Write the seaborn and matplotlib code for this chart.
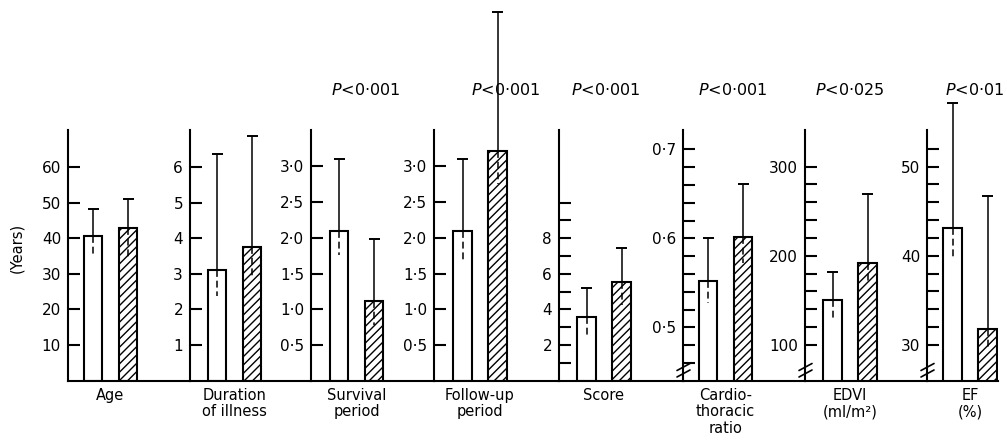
import matplotlib
matplotlib.use("Agg")
import matplotlib.pyplot as plt
from matplotlib.lines import Line2D
import numpy as np
import pandas as pd
import seaborn as sns

# ---------------- data ----------------
panel_labels = ["Age", "Duration\nof illness", "Survival\nperiod", "Follow-up\nperiod",
                "Score", "Cardio-\nthoracic\nratio", "EDVI\n(ml/m²)", "EF\n(%)"]
groups = ["Open", "Hatched"]
open_mean = [40.5, 3.10, 2.10, 2.10, 3.60, 0.552, 151, 43.1]
open_upper = [48.2, 6.37, 3.10, 3.10, 5.20, 0.600, 182, 57.1]
open_lower = [35.0, 2.38, 1.76, 1.67, 2.56, 0.527, 128, 39.9]
hatch_mean = [43.0, 3.75, 1.12, 3.21, 5.56, 0.602, 192, 31.8]
hatch_upper = [50.9, 6.88, 1.99, 5.16, 7.43, 0.661, 269, 46.7]
hatch_lower = [34.6, 2.92, 0.78, 2.76, 4.25, 0.572, 169, 29.6]
p_labels = ["", "", "$P$<0·001", "$P$<0·001", "$P$<0·001", "$P$<0·001", "$P$<0·025", "$P$<0·01"]

major_ticks = [[10, 20, 30, 40, 50, 60], [1, 2, 3, 4, 5, 6],
               [0.5, 1.0, 1.5, 2.0, 2.5, 3.0], [0.5, 1.0, 1.5, 2.0, 2.5, 3.0],
               [2, 4, 6, 8], [0.5, 0.6, 0.7], [100, 200, 300], [30, 40, 50]]
major_labels = [["10", "20", "30", "40", "50", "60"], ["1", "2", "3", "4", "5", "6"],
                ["0·5", "1·0", "1·5", "2·0", "2·5", "3·0"], ["0·5", "1·0", "1·5", "2·0", "2·5", "3·0"],
                ["2", "4", "6", "8"], ["0·5", "0·6", "0·7"], ["100", "200", "300"], ["30", "40", "50"]]
minor_ticks = [[], [], [], [], [1, 3, 5, 7, 9, 10],
               [0.46, 0.48, 0.52, 0.54, 0.56, 0.58, 0.62, 0.64, 0.66, 0.68],
               [120, 140, 160, 180, 220, 240, 260, 280],
               [32, 34, 36, 38, 42, 44, 46, 48, 52]]
y_limits = [(0, 70.4), (0, 7.04), (0, 3.51), (0, 3.51), (0, 14.08),
            (0.44, 0.7217), (60, 341), (26, 54.1)]
broken_axis = [False, False, False, False, False, True, True, True]

# ---------------- layout (pixels) ----------------
W, H = 1007, 440
axes_left_px = [68, 190, 311, 434, 559, 683, 805, 927]
axes_right_px = axes_left_px[1:] + [998]
open_center_px = [93, 217, 339, 462.5, 586.5, 708, 832.5, 952.5]
p_center_px = [0, 0, 366, 506, 606, 733, 850, 975]
spacing_px = 35.0
bar_px = 18.5
base_px, top_px = 380.7, 130.0

sns.set_style("white")
plt.rcParams["font.family"] = ["DejaVu Sans"]
plt.rcParams["hatch.linewidth"] = 1.0
plt.rcParams["mathtext.fontset"] = "dejavusans"
for k in ["text.color", "axes.labelcolor", "xtick.color", "ytick.color", "axes.edgecolor"]:
    plt.rcParams[k] = "black"

fig = plt.figure(figsize=(W / 100, H / 100), dpi=100)

for i in range(len(panel_labels)):
    L, R = axes_left_px[i], axes_right_px[i]
    ax = fig.add_axes([L / W, (H - base_px) / H, (R - L) / W, (base_px - top_px) / H])
    df = pd.DataFrame({"group": groups, "mean": [open_mean[i], hatch_mean[i]]})
    sns.barplot(data=df, x="group", y="mean", color="white", saturation=1,
                edgecolor="black", linewidth=1.5, width=bar_px / spacing_px,
                errorbar=None, ax=ax, zorder=2)
    ax.patches[1].set_hatch("////")

    means = [open_mean[i], hatch_mean[i]]
    uppers = [open_upper[i], hatch_upper[i]]
    lowers = [open_lower[i], hatch_lower[i]]
    cap = 5.5 / spacing_px
    for j in range(2):
        ax.plot([j, j], [means[j], uppers[j]], color="black", lw=1.1,
                solid_capstyle="butt", clip_on=False, zorder=5)
        ax.plot([j - cap, j + cap], [uppers[j], uppers[j]], color="black", lw=1.4,
                solid_capstyle="butt", clip_on=False, zorder=5)
        ax.plot([j, j], [means[j], lowers[j]], color="black", lw=1.1,
                ls=(0, (4.5, 2.5)), clip_on=False, zorder=5)

    c = open_center_px[i]
    ax.set_xlim((L - c) / spacing_px, (R - c) / spacing_px)
    ax.set_ylim(*y_limits[i])
    ax.set_yticks(major_ticks[i])
    ax.set_yticklabels(major_labels[i])
    ax.set_yticks(minor_ticks[i], minor=True)
    ax.tick_params(axis="y", which="both", direction="in", length=8.5, width=1.5,
                   pad=5, labelsize=11, left=True, colors="black")
    ax.tick_params(axis="x", bottom=False, labelbottom=False)
    ax.set_xlabel("")
    ax.set_ylabel("")
    for s in ["top", "right"]:
        ax.spines[s].set_visible(False)
    for s in ["left", "bottom"]:
        ax.spines[s].set_linewidth(1.5)
        ax.spines[s].set_color("black")
    ax.patch.set_alpha(0)

    # category label centred between the two bars
    ax.annotate(panel_labels[i], xy=(0.5, 0), xycoords=("data", "axes fraction"),
                xytext=(0, -5), textcoords="offset points", ha="center", va="top",
                fontsize=10.5, linespacing=1.15, color="black")

    if p_labels[i]:
        fig.text(p_center_px[i] / W, (H - 90) / H, p_labels[i], ha="center",
                 va="center", fontsize=11.5, color="black", zorder=1)

    if broken_axis[i]:
        for y0 in (373.5, 367.0):
            fig.add_artist(Line2D([(L - 6) / W, (L + 7) / W],
                                  [(H - (y0 + 3.5)) / H, (H - (y0 - 3.5)) / H],
                                  transform=fig.transFigure, color="black", lw=1.2))

fig.text(17 / W, (H - 248) / H, "(Years)", rotation=90, ha="center", va="center",
         fontsize=10.5, color="black")

fig.savefig("out.png", dpi=100)
